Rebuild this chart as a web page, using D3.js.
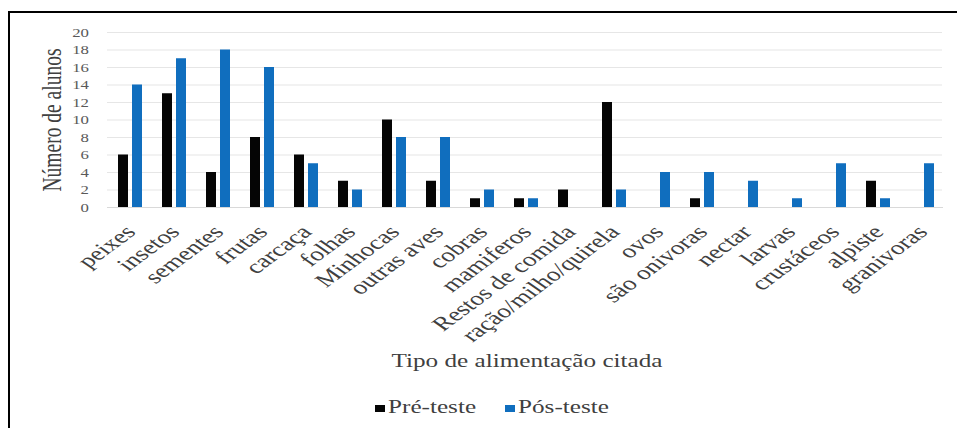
<!DOCTYPE html>
<html>
<head>
<meta charset="utf-8">
<script src="https://cdn.jsdelivr.net/npm/d3@7"></script>
<style>
  html, body { margin: 0; padding: 0; background: #fff; }
  svg { display: block; }
</style>
</head>
<body>
<svg id="chart" width="957" height="428"></svg>
<script>
// Food types cited by students, before and after the test
const categories = ["peixes", "insetos", "sementes", "frutas", "carcaça", "folhas", "Minhocas",
  "outras aves", "cobras", "mamiferos", "Restos de comida", "ração/milho/quirela", "ovos",
  "são onivoras", "nectar", "larvas", "crustáceos", "alpiste", "granivoras"];
const preTeste  = [6, 13, 4, 8, 6, 3, 10, 3, 1, 1, 2, 12, 0, 1, 0, 0, 0, 3, 0];
const posTeste  = [14, 17, 18, 16, 5, 2, 8, 8, 2, 1, 0, 2, 4, 4, 3, 1, 5, 1, 5];
const seriesNames = ["Pré-teste", "Pós-teste"];
const yTicks = [0, 2, 4, 6, 8, 10, 12, 14, 16, 18, 20];

const colors = { "Pré-teste": "#050505", "Pós-teste": "#106ebe" };
const FONT = '"Liberation Serif"';
const SX = 1.4; // horizontal glyph stretch of the typeface

const svg = d3.select("#chart");

// outer frame
svg.append("rect")
  .attr("x", 9).attr("y", 12).attr("width", 1200).attr("height", 800)
  .attr("fill", "#fff").attr("stroke", "#000").attr("stroke-width", 2);

const plot = { left: 108, right: 944, top: 32, bottom: 207 };

const x0 = d3.scaleBand().domain(categories)
  .range([plot.left, plot.right]).paddingInner(20 / 44).paddingOuter(10 / 44);
const x1 = d3.scaleBand().domain(seriesNames)
  .range([0, x0.bandwidth()]).paddingInner(4 / 14);
const y = d3.scaleLinear().domain([0, 20]).range([plot.bottom, plot.top]);

// horizontal gridlines
const grid = svg.append("g")
  .attr("transform", `translate(${plot.left - 1},0)`)
  .call(d3.axisLeft(y).tickValues(yTicks.filter(v => v > 0))
    .tickSize(-(plot.right - plot.left - 1)).tickFormat(""));
grid.select(".domain").remove();
grid.selectAll("line").attr("stroke", "#e6e6e6").attr("stroke-width", 1.2);

// y tick labels
const yAxis = svg.append("g")
  .attr("transform", `translate(${plot.left},0)`)
  .call(d3.axisLeft(y).tickValues(yTicks).tickSize(0).tickPadding(0));
yAxis.attr("font-family", FONT);
yAxis.select(".domain").remove();
yAxis.selectAll("text")
  .attr("x", -19 / SX)
  .attr("dy", "0.35em")
  .attr("transform", `scale(${SX},1)`)
  .attr("fill", "#595959")
  .style("font-family", FONT)
  .style("font-size", "12px");

// bars
const rows = categories.map((c, i) => ({ cat: c, vals: [preTeste[i], posTeste[i]] }));
const groups = svg.append("g").selectAll("g").data(rows).join("g")
  .attr("transform", d => `translate(${x0(d.cat)},0)`);
groups.selectAll("rect")
  .data(d => d.vals.map((v, k) => ({ key: seriesNames[k], v })))
  .join("rect")
  .attr("x", d => x1(d.key))
  .attr("width", x1.bandwidth())
  .attr("y", d => y(d.v))
  .attr("height", d => y(0) - y(d.v))
  .attr("fill", d => colors[d.key]);

// category axis line
svg.append("line")
  .attr("x1", plot.left - 1).attr("x2", plot.right - 1)
  .attr("y1", y(0) + 0.5).attr("y2", y(0) + 0.5)
  .attr("stroke", "#d9d9d9").attr("stroke-width", 1.2);

// category labels, rotated
const xAxis = svg.append("g")
  .attr("transform", `translate(0,${plot.bottom})`)
  .call(d3.axisBottom(x0).tickSize(0).tickPadding(0));
xAxis.attr("font-family", FONT);
xAxis.select(".domain").remove();
xAxis.selectAll("text")
  .attr("x", 0).attr("y", 0).attr("dy", 0)
  .attr("text-anchor", "end")
  .attr("transform", `translate(7,26) scale(${SX},1) rotate(-46)`)
  .attr("fill", "#404040")
  .style("font-family", FONT)
  .style("font-size", "19.5px");

// axis titles
svg.append("text")
  .attr("transform", `translate(61,120) scale(${SX},1) rotate(-90)`)
  .attr("text-anchor", "middle")
  .attr("fill", "#404040")
  .style("font-family", FONT)
  .style("font-size", "19.5px")
  .text("Número de alunos");

svg.append("text")
  .attr("transform", `translate(527,367) scale(${SX},1)`)
  .attr("text-anchor", "middle")
  .attr("fill", "#404040")
  .style("font-family", FONT)
  .style("font-size", "18px")
  .text("Tipo de alimentação citada");

// legend
const legendX = [375, 505];
const legend = svg.append("g").selectAll("g").data(seriesNames).join("g")
  .attr("transform", (d, i) => `translate(${legendX[i]},413)`);
legend.append("rect")
  .attr("x", 0).attr("y", -8).attr("width", 10).attr("height", 7)
  .attr("fill", d => colors[d]);
legend.append("text")
  .attr("transform", `translate(13,0) scale(${SX},1)`)
  .attr("fill", "#404040")
  .style("font-family", FONT)
  .style("font-size", "18px")
  .text(d => d);
</script>
</body>
</html>
